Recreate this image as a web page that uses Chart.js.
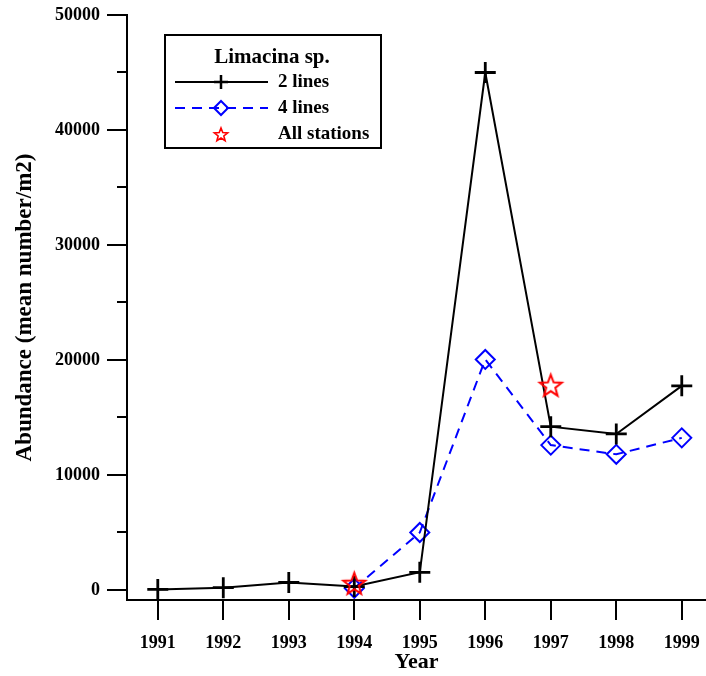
<!DOCTYPE html>
<html><head><meta charset="utf-8">
<script src="https://cdn.jsdelivr.net/npm/chart.js@4"></script>
<style>html,body{margin:0;padding:0;background:#fff}canvas{display:block}</style>
</head><body>
<canvas id="c" width="706" height="676"></canvas>
<script>
// ---- data ----
const years = [1991, 1992, 1993, 1994, 1995, 1996, 1997, 1998, 1999];
const twoLines = [50, 200, 650, 300, 1540, 45000, 14200, 13570, 17750];
const fourLinesYears = [1994, 1995, 1996, 1997, 1998, 1999];
const fourLines = [150, 5000, 20050, 12600, 11800, 13230];
const allStationsYears = [1994, 1997];
const allStations = [580, 17800];
const yTicks = [0, 10000, 20000, 30000, 40000, 50000];
const yMinorTicks = [5000, 15000, 25000, 35000, 45000];
const seriesLabels = ['2 lines', '4 lines', 'All stations'];
const legendTitle = 'Limacina sp.';
const xTitle = 'Year';
const yTitle = 'Abundance (mean number/m2)';

const FONT = "'Liberation Serif', 'Times New Roman', serif";
Chart.defaults.font.family = FONT;
Chart.defaults.color = '#000';

function pts(xs, ys) { return xs.map((x, i) => ({x: x, y: ys[i]})); }

function makeStar(R, r, lw) {
  const s = Math.ceil(2 * R + lw * 2 + 2);
  const c = document.createElement('canvas');
  c.width = s; c.height = s;
  const g = c.getContext('2d');
  g.strokeStyle = '#ff0000';
  g.lineWidth = lw;
  g.lineJoin = 'miter';
  g.beginPath();
  for (let i = 0; i < 10; i++) {
    const rad = (i % 2 === 0) ? R : r;
    const a = -Math.PI / 2 + i * Math.PI / 5;
    const px = s / 2 + rad * Math.cos(a);
    const py = s / 2 + 1 + rad * Math.sin(a);
    if (i === 0) g.moveTo(px, py); else g.lineTo(px, py);
  }
  g.closePath();
  g.stroke();
  return c;
}
const starBig = makeStar(11.5, 4.8, 2);
const starSmall = makeStar(7, 3, 1.6);

const extras = {
  id: 'extras',
  afterDraw(chart) {
    const ctx = chart.ctx;
    const ys = chart.scales.y;
    const left = chart.chartArea.left;
    ctx.save();
    // minor y ticks
    ctx.strokeStyle = '#000';
    ctx.lineWidth = 2;
    yMinorTicks.forEach(v => {
      const py = Math.round(ys.getPixelForValue(v));
      ctx.beginPath();
      ctx.moveTo(left - 10, py);
      ctx.lineTo(left, py);
      ctx.stroke();
    });
    // legend
    const bx = 165, by = 35, bw = 216, bh = 113;
    ctx.fillStyle = '#fff';
    ctx.fillRect(bx, by, bw, bh);
    ctx.lineWidth = 2;
    ctx.strokeStyle = '#000';
    ctx.strokeRect(bx, by, bw, bh);
    ctx.fillStyle = '#000';
    ctx.font = "bold 21px " + FONT;
    ctx.textAlign = 'center';
    ctx.textBaseline = 'middle';
    ctx.fillText(legendTitle, 272, 58);
    const rowY = [82, 108, 134];
    const ds = chart.data.datasets;
    const small = [
      {pointStyle: 'cross', radius: 7, borderWidth: 2.5},
      {pointStyle: 'rectRot', radius: 7, borderWidth: 2},
      {pointStyle: starSmall, radius: 7, borderWidth: 0}
    ];
    ds.forEach((d, i) => {
      const y = rowY[i];
      if (d.showLine) {
        ctx.save();
        ctx.strokeStyle = d.borderColor;
        ctx.lineWidth = d.borderWidth;
        ctx.setLineDash(d.borderDash || []);
        ctx.beginPath();
        ctx.moveTo(175, y);
        ctx.lineTo(268, y);
        ctx.stroke();
        ctx.restore();
      }
      ctx.save();
      ctx.strokeStyle = d.pointBorderColor || '#000';
      ctx.fillStyle = 'rgba(0,0,0,0)';
      ctx.lineWidth = small[i].borderWidth;
      Chart.helpers.drawPoint(ctx, {pointStyle: small[i].pointStyle, radius: small[i].radius, rotation: 0, borderWidth: small[i].borderWidth}, 221, y);
      ctx.restore();
      ctx.fillStyle = '#000';
      ctx.font = "bold 19px " + FONT;
      ctx.textAlign = 'left';
      ctx.textBaseline = 'middle';
      ctx.fillText(seriesLabels[i], 278, y);
    });
    ctx.restore();
  }
};

new Chart(document.getElementById('c'), {
  type: 'scatter',
  data: {
    datasets: [
      {
        label: seriesLabels[0], data: pts(years, twoLines), showLine: true,
        borderColor: '#000', borderWidth: 2, pointStyle: 'cross', pointRadius: 10.5,
        pointBorderWidth: 2.8, pointBorderColor: '#000', pointBackgroundColor: 'rgba(0,0,0,0)', order: 1
      },
      {
        label: seriesLabels[1], data: pts(fourLinesYears, fourLines), showLine: true,
        borderColor: '#0000ff', borderWidth: 2, borderDash: [10, 7], pointStyle: 'rectRot', pointRadius: 9.5,
        pointBorderWidth: 2, pointBorderColor: '#0000ff', pointBackgroundColor: 'rgba(0,0,0,0)', order: 2
      },
      {
        label: seriesLabels[2], data: pts(allStationsYears, allStations), showLine: false,
        pointStyle: starBig, pointRadius: 11, pointBorderColor: '#ff0000', order: 0
      }
    ]
  },
  options: {
    responsive: false, animation: false, events: [],
    layout: {autoPadding: false, padding: {top: 15, right: 0, left: 0, bottom: 0}},
    plugins: {legend: {display: false}, tooltip: {enabled: false}},
    scales: {
      x: {
        type: 'linear', min: 1990.53, max: 1999.37,
        afterFit(s) { s.height = 76; s.paddingLeft = 0; s.paddingRight = 0; },
        afterBuildTicks(s) { s.ticks = years.map(v => ({value: v})); },
        ticks: {callback: v => String(v), color: '#000', font: {size: 18, weight: 'bold'}, padding: 13, autoSkip: false, maxRotation: 0},
        grid: {drawOnChartArea: false, tickLength: 20, color: '#000', lineWidth: 2},
        border: {display: true, color: '#000', width: 2},
        title: {display: true, text: xTitle, color: '#000', font: {size: 22, weight: 'bold'}, padding: {top: 0, bottom: 0}}
      },
      y: {
        min: -870, max: 50000,
        afterFit(s) { s.width = 127; s.paddingTop = 0; s.paddingBottom = 0; },
        afterBuildTicks(s) { s.ticks = yTicks.map(v => ({value: v})); },
        ticks: {callback: v => String(v), color: '#000', font: {size: 18, weight: 'bold'}, padding: 7, autoSkip: false},
        grid: {drawOnChartArea: false, tickLength: 20, color: '#000', lineWidth: 2},
        border: {display: true, color: '#000', width: 2},
        title: {display: true, text: yTitle, color: '#000', font: {size: 23, weight: 'bold'}, padding: {top: 11, bottom: 0}}
      }
    }
  },
  plugins: [extras]
});
</script>
</body></html>
